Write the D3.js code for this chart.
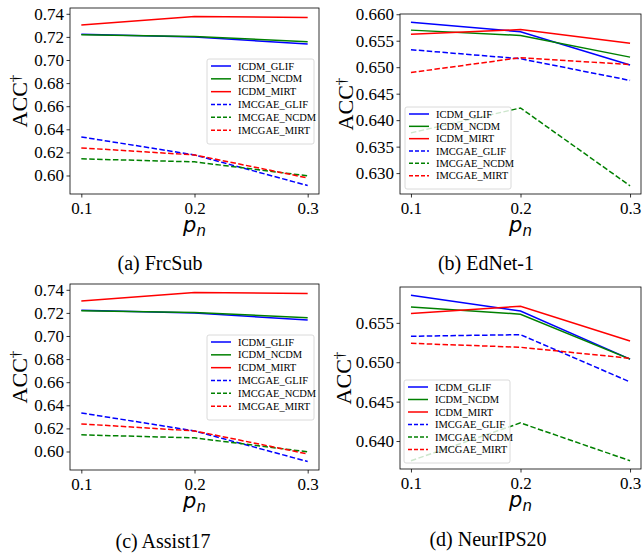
<!DOCTYPE html>
<html>
<head>
<meta charset="utf-8">
<script src="https://cdn.jsdelivr.net/npm/d3@7"></script>
<style>
  body { margin: 0; background: #fff; }
  svg { display: block; }
</style>
</head>
<body>
<div id="chart"></div>
<script>
// data
var pn = [0.1, 0.2, 0.3];
var seriesNames = ["ICDM_GLIF", "ICDM_NCDM", "ICDM_MIRT", "IMCGAE_GLIF", "IMCGAE_NCDM", "IMCGAE_MIRT"];

// rows follow seriesNames
var frcSubAcc = [
  [0.7224, 0.7200, 0.7138],
  [0.7218, 0.7204, 0.7158],
  [0.7302, 0.7377, 0.7368],
  [0.6334, 0.6178, 0.5913],
  [0.6144, 0.6118, 0.5997],
  [0.6239, 0.6178, 0.5979]
];
var edNetAcc = [
  [0.6585, 0.6567, 0.6504],
  [0.6570, 0.6560, 0.6519],
  [0.6562, 0.6571, 0.6545],
  [0.6533, 0.6516, 0.6475],
  [0.6376, 0.6423, 0.6276],
  [0.6490, 0.6518, 0.6505]
];
var assist17Acc = [
  [0.7224, 0.7200, 0.7138],
  [0.7218, 0.7204, 0.7158],
  [0.7302, 0.7377, 0.7368],
  [0.6334, 0.6178, 0.5913],
  [0.6144, 0.6118, 0.5997],
  [0.6239, 0.6178, 0.5979]
];
var neurIPSAcc = [
  [0.6585, 0.6565, 0.6504],
  [0.6570, 0.6561, 0.6504],
  [0.6562, 0.6571, 0.6527],
  [0.6533, 0.6535, 0.6475],
  [0.6375, 0.6423, 0.6375],
  [0.6524, 0.6519, 0.6505]
];

var ticksFrcSub = [0.60, 0.62, 0.64, 0.66, 0.68, 0.70, 0.72, 0.74];
var ticksEdNet = [0.630, 0.635, 0.640, 0.645, 0.650, 0.655, 0.660];
var ticksNeurIPS = [0.640, 0.645, 0.650, 0.655];

// styles
var colors = ["#0000ff", "#008000", "#ff0000", "#0000ff", "#008000", "#ff0000"];
var dashed = [false, false, false, true, true, true];

var panels = [
  { data: frcSubAcc, ticks: ticksFrcSub, fmt: ".2f", title: "(a) FrcSub",
    left: 70, right: 319, top: 8, bottom: 194, titleX: 160, titleY: 270, ylx: 19,
    legend: { x: 207, y: 59, w: 107, h: 85 } },
  { data: edNetAcc, ticks: ticksEdNet, fmt: ".3f", title: "(b) EdNet-1",
    left: 400, right: 641, top: 14, bottom: 194, titleX: 486, titleY: 270, ylx: 345,
    legend: { x: 405, y: 107, w: 106, h: 82 } },
  { data: assist17Acc, ticks: ticksFrcSub, fmt: ".2f", title: "(c) Assist17",
    left: 70, right: 319, top: 284, bottom: 470, titleX: 163, titleY: 548, ylx: 19,
    legend: { x: 207, y: 335, w: 107, h: 85 } },
  { data: neurIPSAcc, ticks: ticksNeurIPS, fmt: ".3f", title: "(d) NeurIPS20",
    left: 400, right: 641, top: 287, bottom: 469, titleX: 488, titleY: 546, ylx: 343,
    legend: { x: 404, y: 380, w: 106, h: 83 } }
];

var svg = d3.select("#chart").append("svg")
  .attr("width", 642)
  .attr("height", 554);

var serif = "'Liberation Serif', 'Times New Roman', serif";

panels.forEach(function (p) {
  var g = svg.append("g");

  var xs = d3.scaleLinear().domain([0.09, 0.31]).range([p.left, p.right]);
  var all = d3.merge(p.data);
  var lo = d3.min(all), hi = d3.max(all), pad = (hi - lo) * 0.05;
  var ys = d3.scaleLinear().domain([lo - pad, hi + pad]).range([p.bottom, p.top]);

  // clip to axes
  var cid = "clip" + p.left + "_" + p.top;
  g.append("clipPath").attr("id", cid).append("rect")
    .attr("x", p.left).attr("y", p.top)
    .attr("width", p.right - p.left).attr("height", p.bottom - p.top);

  var line = d3.line()
    .x(function (d, i) { return xs(pn[i]); })
    .y(function (d) { return ys(d); });

  g.append("g").attr("clip-path", "url(#" + cid + ")")
    .selectAll("path")
    .data(p.data)
    .enter()
    .append("path")
    .attr("d", line)
    .attr("fill", "none")
    .attr("stroke", function (d, i) { return colors[i]; })
    .attr("stroke-width", 1.5)
    .attr("stroke-dasharray", function (d, i) { return dashed[i] ? "5.5,2.4" : null; });

  // frame
  g.append("rect")
    .attr("x", p.left).attr("y", p.top)
    .attr("width", p.right - p.left).attr("height", p.bottom - p.top)
    .attr("fill", "none").attr("stroke", "#000").attr("stroke-width", 0.8);

  var xAxis = g.append("g")
    .attr("transform", "translate(0," + p.bottom + ")")
    .call(d3.axisBottom(xs).tickValues(pn).tickFormat(d3.format(".1f")).tickSize(3.5).tickPadding(4).tickSizeOuter(0));
  var yAxis = g.append("g")
    .attr("transform", "translate(" + p.left + ",0)")
    .call(d3.axisLeft(ys).tickValues(p.ticks).tickFormat(d3.format(p.fmt)).tickSize(3.5).tickPadding(2.5).tickSizeOuter(0));
  [xAxis, yAxis].forEach(function (a) {
    a.select(".domain").remove();
    a.selectAll("line").attr("stroke", "#000").attr("stroke-width", 0.8);
    a.selectAll("text").attr("font-family", serif).attr("font-size", "17px").attr("fill", "#000");
  });

  // y label
  var yl = g.append("text")
    .attr("transform", "translate(" + (p.ylx + 8) + "," + ((p.top + p.bottom) / 2) + ") rotate(-90)")
    .attr("text-anchor", "middle")
    .attr("font-family", serif)
    .attr("font-size", "22px")
    .attr("fill", "#000");
  yl.append("tspan").text("ACC");
  yl.append("tspan").attr("dy", "-7").attr("font-size", "15px").text("\u2020");

  // x label
  var xl = g.append("text")
    .attr("x", xs(0.2))
    .attr("y", p.bottom + 38)
    .attr("text-anchor", "middle")
    .attr("font-family", "'DejaVu Sans', sans-serif")
    .attr("font-style", "italic")
    .attr("font-size", "21px")
    .attr("fill", "#000");
  xl.append("tspan").text("p");
  xl.append("tspan").attr("dy", "4").attr("font-size", "15px").text("n");

  // legend
  var L = p.legend;
  var lg = g.append("g");
  lg.append("rect")
    .attr("x", L.x).attr("y", L.y).attr("width", L.w).attr("height", L.h)
    .attr("rx", 2).attr("fill", "#fff").attr("fill-opacity", 0.8)
    .attr("stroke", "#d0d0d0").attr("stroke-width", 0.8);
  var step = (L.h - 8) / 6;
  seriesNames.forEach(function (name, i) {
    var yy = L.y + 7 + i * step;
    lg.append("line")
      .attr("x1", L.x + 4).attr("x2", L.x + 24)
      .attr("y1", yy).attr("y2", yy)
      .attr("stroke", colors[i]).attr("stroke-width", 1.5)
      .attr("stroke-dasharray", dashed[i] ? "4,2" : null);
    lg.append("text")
      .attr("x", L.x + 31).attr("y", yy + 3.5)
      .attr("font-family", serif).attr("font-size", "10.5px").attr("fill", "#000")
      .text(name);
  });

  // caption
  g.append("text")
    .attr("x", p.titleX).attr("y", p.titleY)
    .attr("text-anchor", "middle")
    .attr("font-family", serif)
    .attr("font-size", "20px")
    .attr("fill", "#000")
    .text(p.title);
});
</script>
</body>
</html>
